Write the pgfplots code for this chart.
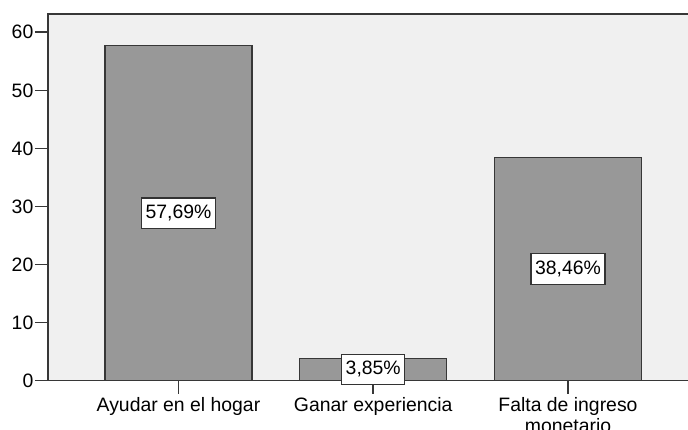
\documentclass[border=0pt]{standalone}
\usepackage{pgfplots}
\pgfplotsset{compat=1.18}
\usepackage{fontspec}
\setmainfont{Liberation Sans}
\definecolor{bgc}{RGB}{240,240,240}
\definecolor{barc}{RGB}{152,152,152}
\definecolor{linec}{RGB}{55,55,55}
\begin{document}
\begin{tikzpicture}[x=1pt,y=1pt,font=\fontsize{19.4}{21}\selectfont]
\begin{axis}[
  at={(48pt,49.3pt)}, anchor=south west,
  scale only axis, width=660pt, height=366.7pt,
  xmin=-0.67, xmax=2.719, ymin=0, ymax=63.15,
  axis background/.style={fill=bgc},
  axis line style={linec, line width=1.6pt},
  ytick={0,10,20,30,40,50,60}, xtick={0,1,2},
  xticklabels={Ayudar en el hogar, Ganar experiencia, {Falta de ingreso\\monetario}},
  xticklabel style={align=center, inner sep=3.5pt},
  yticklabel style={inner sep=1.5pt},
  tick pos=left, tick align=outside, major tick length=13pt,
  tick style={linec, line width=1.6pt},
  /pgf/number format/assume math mode=true,
  clip=false,
]
\addplot[ybar, bar width=147pt, fill=barc, draw=linec, line width=1.2pt]
  coordinates {(0,57.69) (1,3.85) (2,38.46)};
\addplot[draw=none, mark=none, point meta=explicit symbolic,
  nodes near coords,
  every node near coord/.append style={anchor=center, fill=white, draw=black!80, line width=1.3pt,
     inner xsep=4pt, inner ysep=7pt, text height=13.6pt, text depth=3pt,
     font=\fontsize{19.4}{21}\selectfont}]
  table[meta=lab] {
x y lab
0 28.845 57,69\%
1 1.925 3,85\%
2 19.23 38,46\%
};
\end{axis}
\pgfresetboundingbox
\useasboundingbox (0,0) rectangle (688,430);
\end{tikzpicture}
\end{document}
